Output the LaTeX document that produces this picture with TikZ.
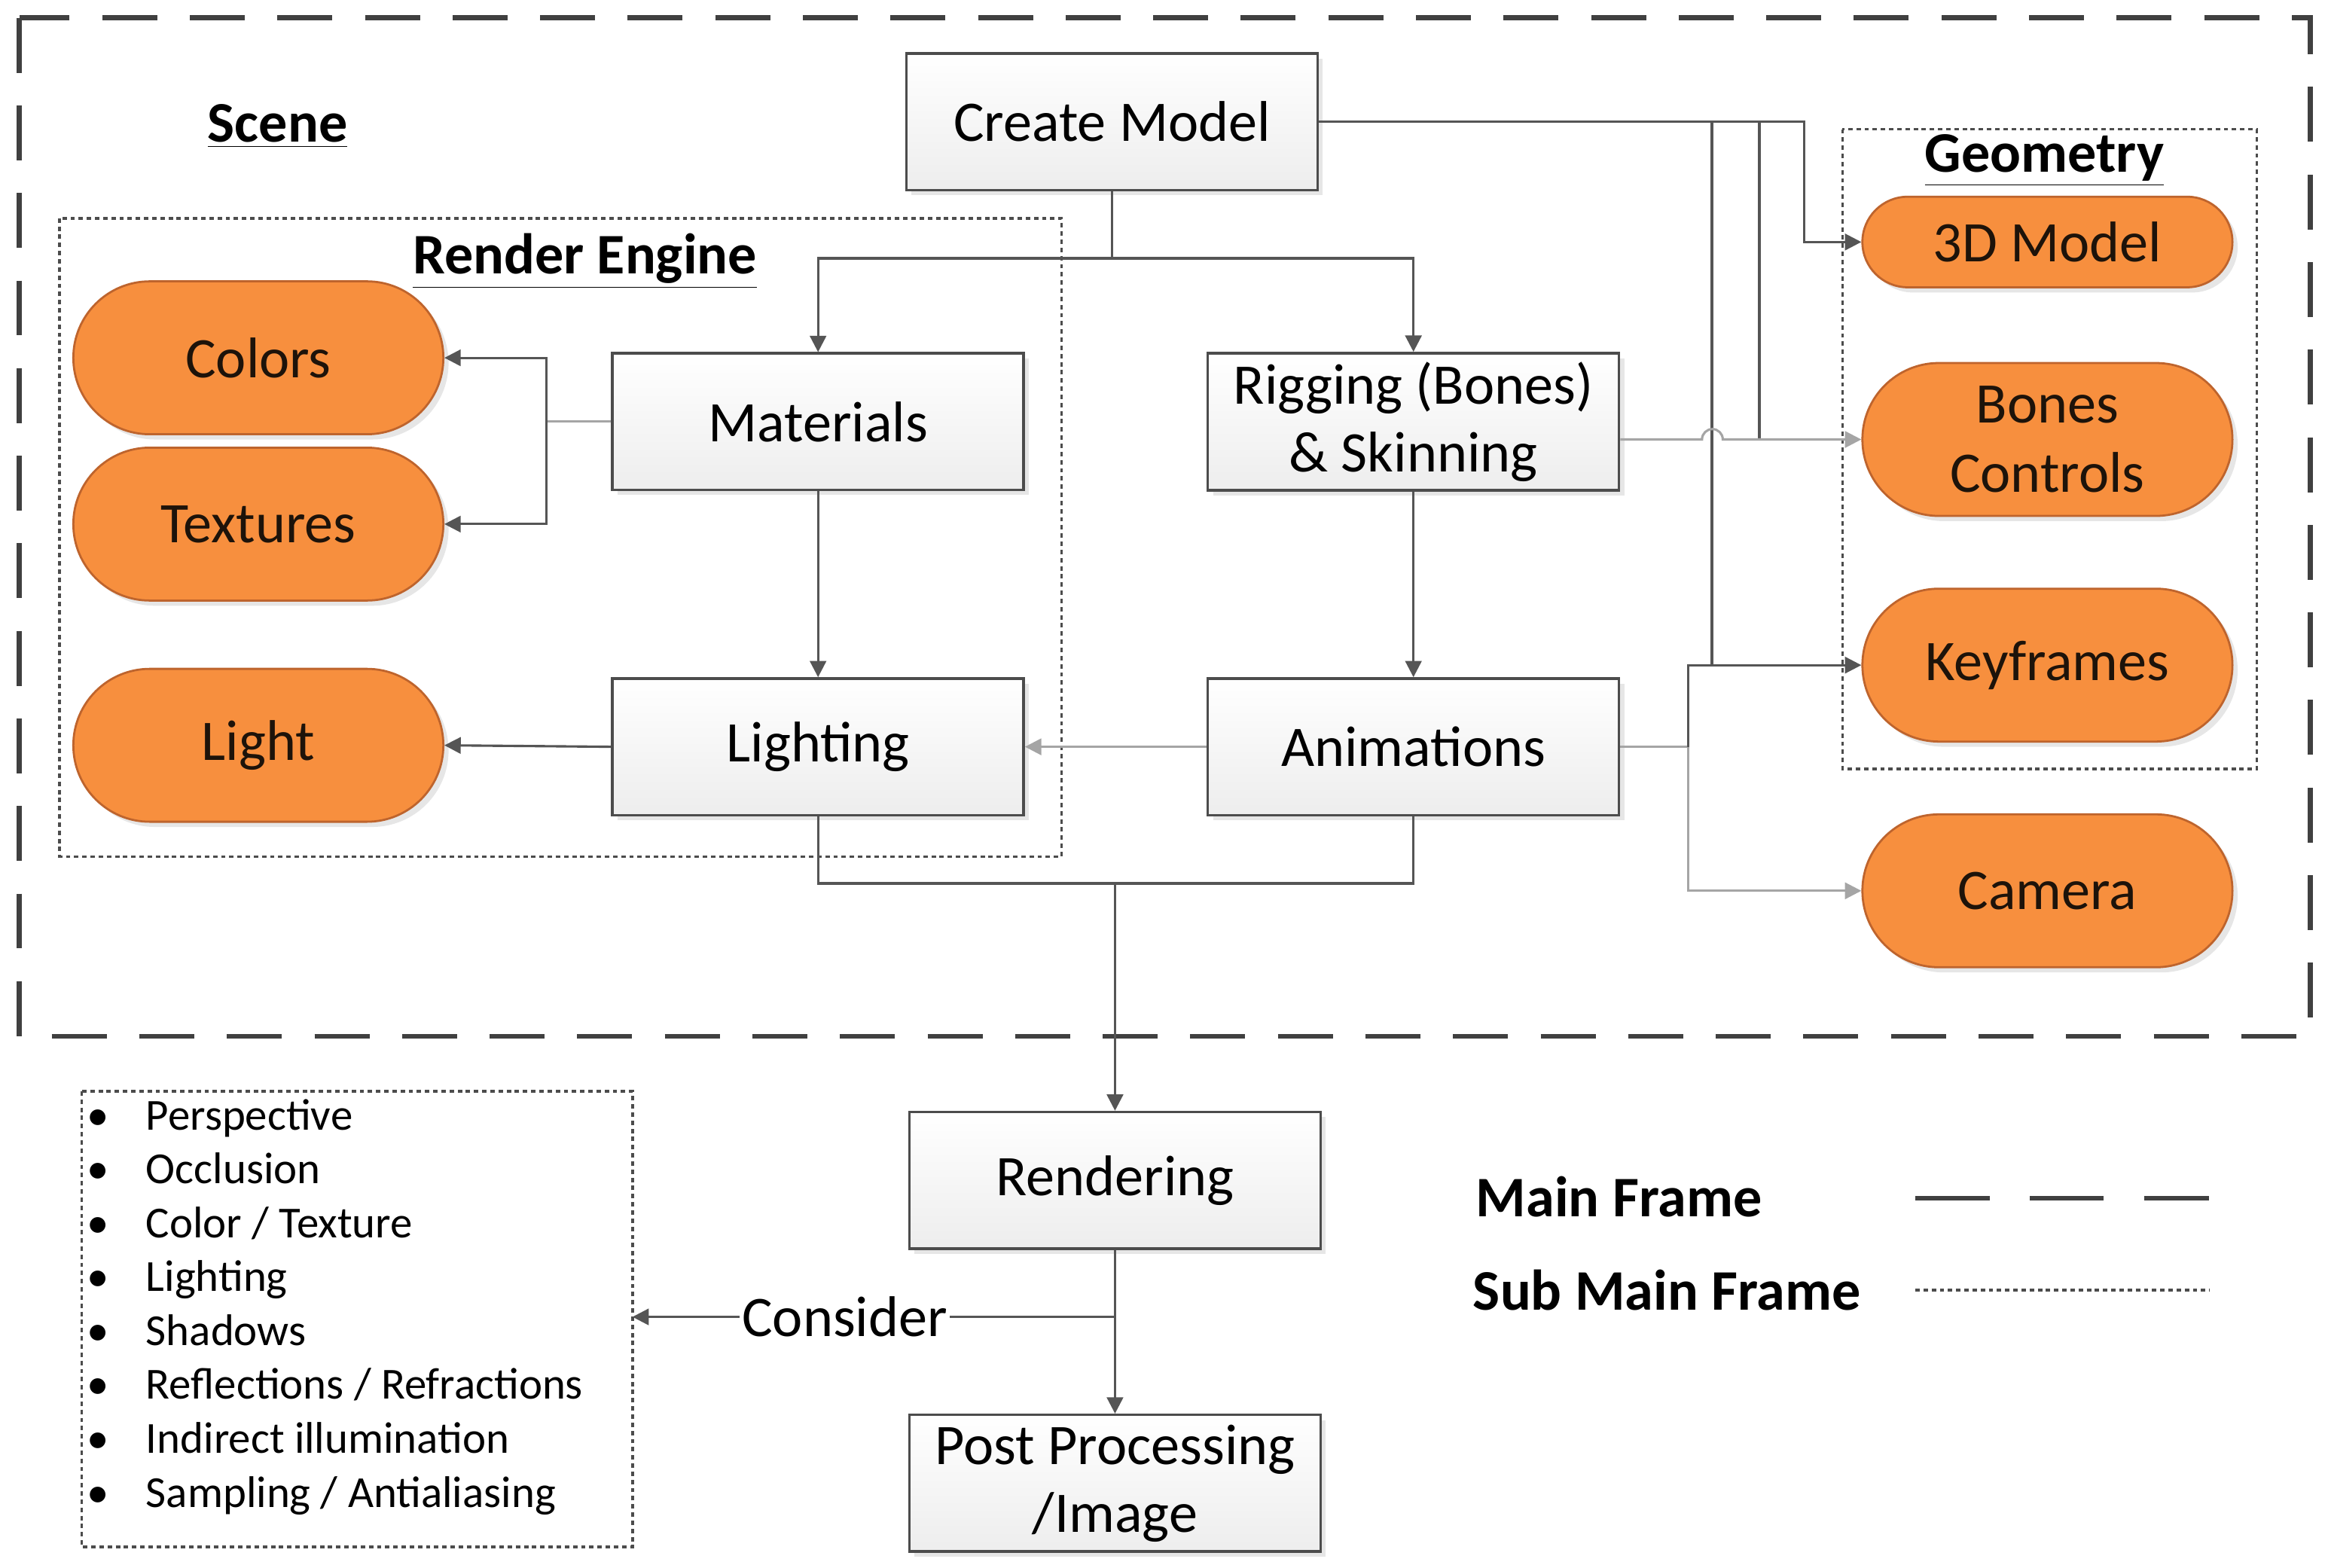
\documentclass[tikz,border=0pt]{standalone}
\usepackage{fontspec}
\setmainfont{Carlito}
\usetikzlibrary{arrows.meta,shapes.misc,shadows,calc}
\definecolor{pillfill}{RGB}{247,143,62}
\definecolor{pilldraw}{RGB}{190,100,45}
\definecolor{linkgray}{RGB}{85,85,85}
\definecolor{softgray}{RGB}{165,165,165}
\tikzset{
  box/.style      = {draw=gray!60!black, line width=1pt, top color=white, bottom color=gray!14,
                     minimum width=5.54cm, minimum height=1.84cm, align=center,
                     font=\fontsize{22}{26}\selectfont,
                     drop shadow={shadow xshift=2pt, shadow yshift=-2pt, opacity=.2, fill=gray}},
  pill/.style     = {rounded rectangle, draw=pilldraw, line width=0.8pt, fill=pillfill,
                     minimum width=5.22cm, minimum height=2.06cm, align=center,
                     font=\fontsize{22}{26.5}\selectfont, text=black!85!brown,
                     drop shadow={shadow xshift=2pt, shadow yshift=-2pt, opacity=.2, fill=gray}},
  link/.style     = {draw=linkgray, line width=0.9pt},
  softlink/.style = {draw=softgray, line width=0.9pt},
  flow/.style     = {-{Triangle[length=2.2mm,width=2.2mm]}},
  mainframe/.style= {draw=black!75, line width=1.9pt, dash pattern=on 0.74cm off 0.44cm},
  subframe/.style = {draw=black!70, line width=1pt, dash pattern=on 0.06cm off 0.05cm},
  title/.style    = {font=\bfseries\fontsize{22}{26}\selectfont},
  listitem/.style = {font=\fontsize{17}{20}\selectfont, inner sep=0pt},
}

\begin{document}
\begin{tikzpicture}[x=0.02cm,y=-0.02cm]
  \useasboundingbox (0,0) rectangle (1568,1056);
  \draw[mainframe] (13,12) rectangle (1556,698);
  \draw[subframe] (40,147) rectangle (715,577);
  \draw[subframe] (1241,87) rectangle (1520,518);
  \draw[subframe] (55,735) rectangle (426,1042);

  \node[title] (scene) at (187,85) {\underline{Scene}};
  \node[title] (engine) at (394,176) {\underline{Render Engine}};
  \node[title] (geom) at (1377,108) {\underline{Geometry}};

  \node[box] (create) at (749,82) {Create Model};
  \node[box] (mat) at (551,284) {Materials};
  \node[box] (rig) at (952,284) {Rigging (Bones)\\ \& Skinning};
  \node[box] (lighting) at (551,503) {Lighting};
  \node[box] (anim) at (952,503) {Animations};
  \node[box] (render) at (751,795) {Rendering};
  \node[box] (post) at (751,999) {Post Processing\\ /Image};

  \node[pill] (colors) at (174,241) {Colors};
  \node[pill] (textures) at (174,353) {Textures};
  \node[pill] (light) at (174,502) {Light};
  \node[pill, minimum height=1.22cm] (model3d) at (1379,163) {3D Model};
  \node[pill] (bones) at (1379,296) {Bones\\ Controls};
  \node[pill] (keys) at (1379,448) {Keyframes};
  \node[pill] (camera) at (1379,600) {Camera};

  \coordinate (cfork) at (749,174);
  \draw[link] (create.south) -- (cfork);
  \draw[link,flow] (cfork) -| (mat.north);
  \draw[link,flow] (cfork) -| (rig.north);

  \coordinate (tap1) at (1153,82);
  \coordinate (tap2) at (1185,82);
  \draw[link,flow] (create.east) -| (1215,163) -- (model3d.west);
  \draw[link] (tap1) -- (tap1 |- keys.west);
  \draw[link] (tap2) -- (tap2 |- bones.west);
  \draw[softlink,flow] (rig.east |- bones.west) -- ++(55,0)
    arc[start angle=180,end angle=0,radius=0.14cm] -- (bones.west);

  \coordinate (abus) at (1137,503);
  \draw[softlink] (anim.east) -- (abus);
  \draw[link,flow] (abus) |- (keys.west);
  \draw[softlink,flow] (abus) |- (camera.west);

  \coordinate (mbus) at (368,284);
  \draw[softlink] (mat.west) -- (mbus);
  \draw[link,flow] (mbus) |- (colors.east);
  \draw[link,flow] (mbus) |- (textures.east);
  \draw[link,flow] (lighting.west) -- (light.east);
  \draw[softlink,flow] (anim.west) -- (lighting.east);
  \draw[link,flow] (mat) -- (lighting);
  \draw[link,flow] (rig) -- (anim);

  \coordinate (jfork) at (751,595);
  \draw[link] (lighting.south) |- (jfork);
  \draw[link] (anim.south) |- (jfork);
  \draw[link,flow] (jfork) -- (render.north);
  \draw[link,flow] (render) -- (post);

  \coordinate (split) at (751,887);
  \coordinate (listedge) at (426,887);
  \draw[link,flow] (split) -- node[pos=0.56, fill=white, inner sep=1pt,
    font=\fontsize{22}{26}\selectfont] (consider) {Consider} (listedge);

  \foreach \txt [count=\i] in {Perspective, Occlusion, Color / Texture, Lighting, Shadows,
      Reflections / Refractions, Indirect illumination, Sampling / Antialiasing} {
    \pgfmathsetmacro\yy{724.7+36.3*\i}
    \node[listitem, anchor=base] (dot\i) at (66,\yy) {\textbullet};
    \node[listitem, anchor=base west] (item\i) at (98,\yy) {\txt};
  }

  \node[title, anchor=west] (mainlbl) at (988,806) {Main Frame};
  \node[title, anchor=west] (sublbl) at (986,869) {Sub Main Frame};
  \draw[mainframe, dash pattern=on 1cm off 0.54cm] (1290,807) -- (1488,807);
  \draw[subframe] (1290,869) -- (1488,869);
\end{tikzpicture}
\end{document}
